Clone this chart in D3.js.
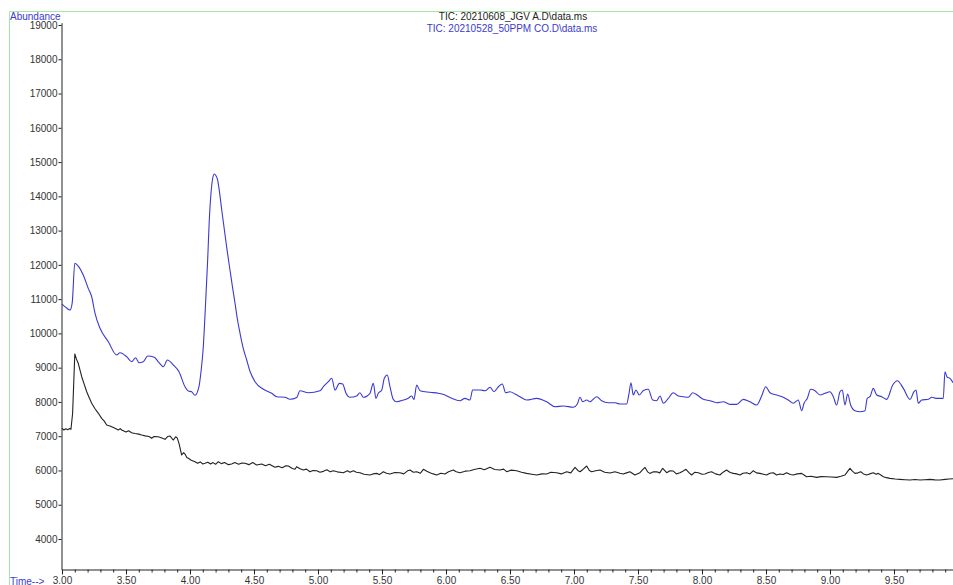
<!DOCTYPE html>
<html>
<head>
<meta charset="utf-8">
<script src="https://cdn.jsdelivr.net/npm/d3@7"></script>
<style>
  html, body { margin: 0; padding: 0; background: #fff; }
  svg { display: block; font-family: "Liberation Sans", Arial, sans-serif; }
</style>
</head>
<body>
<svg id="chart" width="953" height="585"></svg>
<script>
// Total ion chromatograms: retention time (min) vs abundance
const titleBlack = "TIC: 20210608_JGV A.D\\data.ms";
const titleBlue = "TIC: 20210528_50PPM CO.D\\data.ms";

const yTickValues = [4000, 5000, 6000, 7000, 8000, 9000, 10000, 11000, 12000, 13000, 14000, 15000, 16000, 17000, 18000, 19000];
const xMajorTicks = [3.0, 3.5, 4.0, 4.5, 5.0, 5.5, 6.0, 6.5, 7.0, 7.5, 8.0, 8.5, 9.0, 9.5];
const xMinorTicks = [3.1,3.2,3.3,3.4,3.6,3.7,3.8,3.9,4.1,4.2,4.3,4.4,4.6,4.7,4.8,4.9,5.1,5.2,5.3,5.4,5.6,5.7,5.8,5.9,
  6.1,6.2,6.3,6.4,6.6,6.7,6.8,6.9,7.1,7.2,7.3,7.4,7.6,7.7,7.8,7.9,8.1,8.2,8.3,8.4,8.6,8.7,8.8,8.9,9.1,9.2,9.3,9.4,9.6,9.7,9.8,9.9];

// 50PPM CO run (blue)
const blueTime = [3.000,3.030,3.0625,3.080,3.100,3.127,3.166,3.205,3.232,3.258,3.297,3.362,3.427,3.453,3.505,3.544,3.575,3.602,3.635,3.669,
  3.721,3.758,3.792,3.823,3.870,3.914,3.961,3.987,4.013,4.039,4.070,4.085,4.104,4.120,4.138,4.150,4.164,4.177,4.190,4.203,
  4.216,4.232,4.248,4.279,4.295,4.3125,4.330,4.352,4.370,4.391,4.415,4.443,4.470,4.508,4.573,4.638,4.677,4.742,4.781,4.834,
  4.859,4.924,5.016,5.042,5.081,5.107,5.133,5.167,5.193,5.219,5.250,
  5.302,5.328,5.354,5.406,5.432,5.453,5.471,5.498,5.518,5.541,5.5625,5.588,5.615,5.667,5.705,5.732,5.750,5.771,5.797,5.875,
  5.940,5.992,6.045,6.109,6.148,6.1875,6.208,6.266,6.305,6.344,6.375,6.409,6.440,6.466,6.500,6.539,6.578,6.630,6.708,6.786,
  6.852,6.916,6.995,7.026,7.047,7.068,7.099,7.125,7.177,7.216,7.268,7.320,7.359,7.411,7.430,7.445,7.463,7.484,7.510,7.541,
  7.580,7.615,7.646,7.672,7.698,7.737,7.776,7.815,7.854,7.893,7.927,7.963,8.010,8.0625,8.115,8.166,8.219,8.271,8.323,8.375,
  8.427,8.466,8.498,8.531,8.583,8.635,8.674,8.713,8.752,8.779,8.797,8.823,8.849,8.883,8.922,8.961,9.000,9.026,9.052,9.078,
  9.096,9.117,9.138,9.161,9.195,9.234,9.273,9.291,9.3125,9.338,9.365,9.404,9.443,9.490,9.526,9.573,9.625,9.656,9.672,9.690,
  9.716,9.768,9.794,9.828,9.885,9.898,9.916,9.9375,9.961];
const blueAbund = [10857,10760,10682,10900,12045,11966,11704,11315,11070,10586,10148,9757,9369,9436,9320,9174,9290,9144,9174,9340,
  9302,9144,9028,9223,9077,8882,8444,8319,8298,8193,8444,8850,9611,10750,12141,13250,14088,14520,14651,14600,
  14476,14080,13601,12725,12290,11850,11400,10878,10420,10002,9580,9223,8880,8590,8368,8252,8152,8135,8077,8130,
  8327,8269,8327,8444,8590,8689,8348,8543,8523,8252,8135,
  8173,8269,8135,8252,8543,8105,8252,8348,8689,8786,8444,8076,8006,8056,8105,8173,8076,8494,8327,8281,
  8252,8202,8105,8036,8105,8056,8348,8348,8327,8427,8298,8444,8523,8269,8298,8231,8152,8056,8105,8006,
  7861,7881,7843,7939,8135,8006,8056,8006,8152,8036,7977,7977,7939,7939,8252,8561,8202,8348,8202,8327,
  8368,8056,8036,8173,7960,8105,8269,8173,8152,8135,8269,8202,8076,8036,7977,8006,7930,7930,8076,8006,
  7910,8173,8444,8269,8202,8135,8056,7960,8056,7744,7960,8105,8368,8327,8202,8252,8298,8152,7910,8298,
  8348,7910,8231,7910,7744,7715,7744,8105,8152,8397,8202,8152,8076,8494,8619,8397,8076,8298,8348,7960,
  8056,8076,8135,8105,8105,8882,8719,8689,8561];

// JGV A run (black)
const blackTime = [3.000,3.015,3.030,3.045,3.060,3.070,3.083,3.100,3.113,3.127,3.154,3.175,3.193,3.212,3.232,3.258,3.284,3.310,3.330,3.349,
  3.380,3.414,3.440,3.455,3.466,3.500,3.520,3.544,3.570,3.600,3.622,3.650,3.680,3.700,3.720,3.752,3.780,3.805,3.825,3.844,
  3.860,3.870,3.888,3.900,3.914,3.935,3.950,3.961,3.975,3.987,4.010,4.039,4.060,4.080,4.100,4.117,4.140,4.160,4.180,4.200,
  4.221,4.245,4.270,4.300,4.325,4.350,4.380,4.405,4.430,4.460,4.490,4.520,4.560,4.590,4.620,4.664,4.690,4.720,4.750,4.768,
  4.800,4.820,4.833,4.860,4.885,4.910,4.937,4.960,4.990,5.015,5.042,5.070,5.095,5.120,5.150,5.198,5.230,5.250,5.276,5.300,
  5.328,5.360,5.406,5.430,5.458,5.480,5.510,5.535,5.5625,5.600,5.641,5.670,5.700,5.719,5.745,5.771,5.800,5.823,5.850,5.875,
  5.900,5.927,5.960,5.992,6.020,6.057,6.080,6.109,6.150,6.1875,6.220,6.266,6.300,6.344,6.380,6.422,6.450,6.474,6.510,6.552,
  6.590,6.630,6.670,6.708,6.750,6.786,6.820,6.865,6.900,6.943,6.975,7.008,7.030,7.047,7.070,7.099,7.120,7.138,7.170,7.203,
  7.240,7.281,7.320,7.359,7.385,7.410,7.437,7.476,7.515,7.554,7.575,7.593,7.620,7.646,7.670,7.693,7.724,7.750,7.776,7.800,
  7.828,7.850,7.875,7.900,7.919,7.945,7.971,8.000,8.023,8.050,8.075,8.105,8.140,8.165,8.192,8.220,8.245,8.270,8.297,8.320,
  8.349,8.375,8.401,8.425,8.453,8.480,8.505,8.530,8.557,8.583,8.609,8.635,8.661,8.690,8.713,8.745,8.778,8.800,8.817,8.850,
  8.896,8.930,8.974,9.010,9.052,9.085,9.117,9.135,9.156,9.175,9.195,9.220,9.240,9.262,9.286,9.310,9.338,9.360,9.377,9.400,
  9.417,9.440,9.469,9.510,9.547,9.585,9.625,9.665,9.703,9.740,9.781,9.820,9.859,9.900,9.930,9.961];
const blackAbund = [7230,7180,7215,7190,7225,7201,7668,9398,9250,9127,8736,8500,8298,8130,7960,7800,7668,7520,7440,7327,
  7290,7230,7180,7220,7181,7120,7160,7102,7080,7060,7035,7010,6990,6938,6990,6985,6950,6909,6990,7006,
  6930,6889,6985,6950,6792,6451,6520,6480,6380,6355,6300,6256,6210,6250,6190,6209,6240,6190,6230,6180,
  6256,6200,6230,6170,6189,6230,6180,6220,6209,6170,6230,6160,6189,6140,6180,6092,6120,6080,6140,6130,
  6060,6034,6110,6050,6013,6040,5964,6000,5993,5950,5974,6020,5960,5993,5960,5935,5990,5950,5993,5950,
  5935,5890,5867,5900,5915,5880,5964,5920,5896,5940,5935,5900,5990,6013,5950,5964,5920,6034,5980,5935,
  5900,5867,5920,5896,5960,6013,5960,5935,5980,5993,6030,6063,6020,6092,6030,6013,6040,5964,6010,5993,
  5950,5915,5890,5867,5900,5896,5950,5935,5900,5964,5930,6092,6000,5964,6030,6130,6000,5964,5990,6013,
  5950,5925,5960,5920,5896,5930,5964,5867,5935,6092,5960,5915,5960,5964,5930,6063,5935,5990,5983,5900,
  5935,5980,6034,5930,5867,5950,5935,5890,5896,5940,5964,5900,5867,5950,6013,5940,5915,5900,5867,5920,
  5935,5900,5993,5930,5915,5890,5867,5920,5935,5870,5896,5880,5935,5880,5867,5900,5915,5860,5818,5830,
  5799,5820,5818,5810,5799,5830,5867,5960,6063,5980,5915,5930,5964,5900,5867,5900,5935,5890,5915,5860,
  5818,5790,5770,5750,5741,5730,5721,5735,5721,5730,5741,5725,5721,5740,5750,5760];

const svg = d3.select("#chart");
const BLUE = "#3a3ad0";
const INK = "#222";

const x = d3.scaleLinear().domain([3.0, 9.961]).range([62, 953]);
const y = d3.scaleLinear().domain([3110, 19067]).range([569.5, 22.7]);

// Frame lines
svg.append("line").attr("x1", 9.5).attr("x2", 953).attr("y1", 11.5).attr("y2", 11.5)
  .attr("stroke", "#a6e6a6").attr("stroke-width", 1);
svg.append("line").attr("x1", 9.5).attr("x2", 9.5).attr("y1", 11.5).attr("y2", 585)
  .attr("stroke", "#a6e6a6").attr("stroke-width", 1);

// Y axis
const yAxis = svg.append("g").attr("transform", "translate(61.5,0)")
  .call(d3.axisLeft(y).tickValues(yTickValues).tickSize(3).tickSizeOuter(0).tickPadding(1).tickFormat(d3.format("d")));
yAxis.select(".domain").attr("stroke", INK);
yAxis.selectAll(".tick line").attr("stroke", INK);
yAxis.selectAll("text").attr("fill", "#333").attr("font-size", 10).attr("font-family", "Liberation Sans, Arial, sans-serif");

// X axis: minor ticks then major ticks with labels
const xMinor = svg.append("g").attr("transform", "translate(0,569.5)")
  .call(d3.axisBottom(x).tickValues(xMinorTicks).tickSize(3).tickSizeOuter(0).tickFormat(""));
xMinor.select(".domain").attr("stroke", INK);
xMinor.selectAll(".tick line").attr("stroke", INK);

const xAxis = svg.append("g").attr("transform", "translate(0,569.5)")
  .call(d3.axisBottom(x).tickValues(xMajorTicks).tickSize(5).tickSizeOuter(0).tickPadding(2).tickFormat(d3.format(".2f")));
xAxis.select(".domain").remove();
xAxis.selectAll(".tick line").attr("stroke", INK);
xAxis.selectAll("text").attr("fill", "#333").attr("font-size", 10).attr("font-family", "Liberation Sans, Arial, sans-serif");

// Traces
const blackLine = d3.line().x(d => x(d[0])).y(d => y(d[1]));
const blueLine = d3.line().x(d => x(d[0])).y(d => y(d[1])).curve(d3.curveMonotoneX);
const blackData = blackTime.map((t, i) => [t, blackAbund[i]]);
const blueData = blueTime.map((t, i) => [t, blueAbund[i]]);

svg.append("path").datum(blackData).attr("d", blackLine)
  .attr("fill", "none").attr("stroke", INK).attr("stroke-width", 1.1).attr("stroke-linejoin", "round");
svg.append("path").datum(blueData).attr("d", blueLine)
  .attr("fill", "none").attr("stroke", BLUE).attr("stroke-width", 1.1).attr("stroke-linejoin", "round");

// Labels
svg.append("text").attr("x", 10).attr("y", 20).attr("font-size", 10).attr("fill", BLUE).text("Abundance");
svg.append("text").attr("x", 10).attr("y", 585).attr("font-size", 10).attr("fill", BLUE).text("Time-->");
svg.append("text").attr("x", 513).attr("y", 20).attr("text-anchor", "middle").attr("font-size", 10).attr("fill", INK).text(titleBlack);
svg.append("text").attr("x", 512).attr("y", 31.5).attr("text-anchor", "middle").attr("font-size", 10).attr("fill", BLUE).text(titleBlue);
</script>
</body>
</html>
